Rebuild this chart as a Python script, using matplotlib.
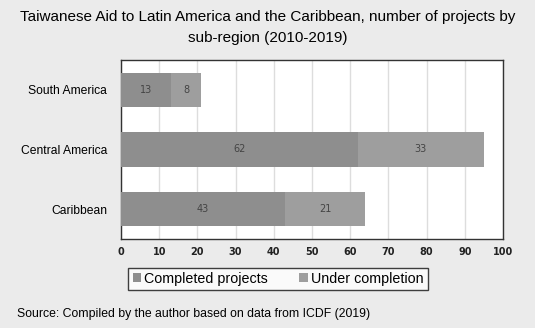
import matplotlib
matplotlib.use("Agg")
import matplotlib.pyplot as plt

categories = ["South America", "Central America", "Caribbean"]
completed = [13, 62, 43]
under_completion = [8, 33, 21]
xticks = [0, 10, 20, 30, 40, 50, 60, 70, 80, 90, 100]

W, H = 535, 328
fig = plt.figure(figsize=(W / 100, H / 100), dpi=100)
fig.patch.set_facecolor("#ebebeb")

ax = fig.add_axes([121 / W, 1 - 239 / H, (503 - 121) / W, (239 - 60) / H])
ax.set_facecolor("white")

y = list(range(len(categories)))
c1 = "#8e8e8e"
c2 = "#9e9e9e"
h = 0.58
b1 = ax.barh(y, completed, height=h, color=c1, label="Completed projects", zorder=3)
b2 = ax.barh(y, under_completion, left=completed, height=h, color=c2,
             label="Under completion", zorder=3)
for bars in (b1, b2):
    ax.bar_label(bars, label_type="center", fontsize=7, color="#444444")

ax.set_ylim(len(categories) - 0.5, -0.5)
ax.set_xlim(0, 100)
ax.set_xticks(xticks)
ax.set_xticklabels([str(t) for t in xticks], fontsize=7, color="#222222",
                   fontweight="semibold")
ax.set_yticks(y)
ax.set_yticklabels(categories, fontsize=8.7, family="Liberation Sans")
ax.tick_params(axis="both", length=0, pad=6)
ax.tick_params(axis="y", pad=10)
ax.xaxis.grid(True, color="#dddddd", linewidth=1, zorder=0)
for s in ax.spines.values():
    s.set_color("#333333")
    s.set_linewidth(1)

fig.text(0.5, 1 - 17 / H, "Taiwanese Aid to Latin America and the Caribbean, number of projects by",
         ha="center", va="center", fontsize=11, family="Liberation Sans")
fig.text(0.5, 1 - 38 / H, "sub-region (2010-2019)",
         ha="center", va="center", fontsize=11, family="Liberation Sans")

leg = fig.legend(handles=[b1, b2], loc="center", bbox_to_anchor=(278 / W, 1 - 279 / H),
                 ncol=2, frameon=True, fancybox=False,
                 prop={"family": "Liberation Sans", "size": 10.3},
                 handlelength=0.6, handleheight=0.6, handletextpad=0.2,
                 columnspacing=2.2, borderpad=0.3, borderaxespad=0)
leg.get_frame().set_edgecolor("#111111")
leg.get_frame().set_linewidth(1)
leg.get_frame().set_facecolor("white")

fig.text(17 / W, 1 - 314 / H, "Source: Compiled by the author based on data from ICDF (2019)",
         ha="left", va="center", fontsize=8.8, family="Liberation Sans")

fig.savefig("out.png", dpi=100, facecolor=fig.get_facecolor())
